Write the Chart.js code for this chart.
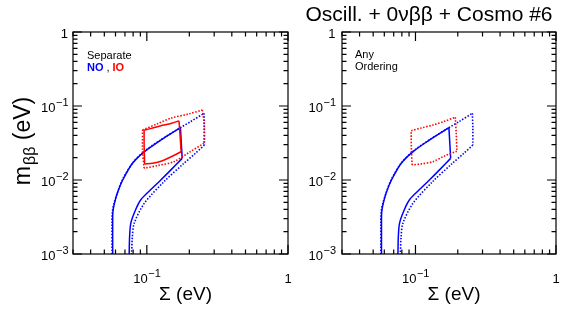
<!DOCTYPE html>
<html>
<head>
<meta charset="utf-8">
<script src="https://cdn.jsdelivr.net/npm/chart.js@4.4.1/dist/chart.umd.min.js"></script>
<style>
  body { margin: 0; background: #fff; }
  #wrap { position: relative; width: 582px; height: 315px; }
  canvas { position: absolute; top: 0; }
</style>
</head>
<body>
<div id="wrap">
  <canvas id="left" width="582" height="315" style="left:0"></canvas>
  <canvas id="right" width="282" height="315" style="left:300px"></canvas>
</div>
<script>
// decade ticks
const xTickValues = [0.1, 1];
const yTickValues = [0.001, 0.01, 0.1, 1];

// normal ordering, solid contour (Sigma in eV, m_bb in eV); corners = indices of sharp corners
const noSolidSigma = [0.0573, 0.0573, 0.0575, 0.0589, 0.0620, 0.0675, 0.0792, 0.0957, 0.1256, 0.1500, 0.1730,
                      0.1780, 0.1476, 0.1256, 0.1050, 0.0907, 0.0830, 0.0770, 0.0755, 0.0750];
const noSolidMbb   = [0.0010, 0.0025, 0.0037, 0.0048, 0.0068, 0.0100, 0.0168, 0.0240, 0.0347, 0.0430, 0.0510,
                      0.0196, 0.0136, 0.0100, 0.0072, 0.0054, 0.0039, 0.0026, 0.0017, 0.0010];
const noSolidCorners = [10, 11];

// normal ordering, dotted contour
const noDotSigma = [0.0567, 0.0567, 0.0569, 0.0585, 0.0620, 0.0670, 0.0790, 0.0950, 0.1250, 0.1730, 0.2040, 0.2540,
                    0.2560, 0.2560, 0.2200, 0.1830, 0.1324, 0.0957, 0.0814, 0.0790, 0.0780];
const noDotMbb   = [0.0010, 0.0025, 0.0036, 0.0048, 0.0068, 0.0100, 0.0168, 0.0240, 0.0347, 0.0510, 0.0614, 0.0796,
                    0.0500, 0.0297, 0.0228, 0.0168, 0.0095, 0.0048, 0.0026, 0.0017, 0.0010];
const noDotCorners = [11, 13];

// inverted ordering, solid contour (left panel)
const ioSolidSigma = [0.0957, 0.1100, 0.1256, 0.1500, 0.1690, 0.1720, 0.1750, 0.1500, 0.1290, 0.1100, 0.0965, 0.0957, 0.0957];
const ioSolidMbb   = [0.0470, 0.0505, 0.0540, 0.0585, 0.0630, 0.0400, 0.0241, 0.0208, 0.0182, 0.0168, 0.0165, 0.0300, 0.0470];
const ioSolidCorners = [4, 6, 10];

// inverted ordering, dotted contour (left panel)
const ioDotSigma = [0.0933, 0.1200, 0.1476, 0.2000, 0.2470, 0.2540, 0.2540, 0.2000, 0.1556, 0.1200, 0.0957, 0.0933, 0.0933];
const ioDotMbb   = [0.0474, 0.0580, 0.0683, 0.0785, 0.0883, 0.0600, 0.0313, 0.0237, 0.0177, 0.0157, 0.0144, 0.0250, 0.0474];
const ioDotCorners = [4, 6, 10];

// inverted ordering, dotted contour (right panel, any ordering)
const ioAnySigma = [0.0932, 0.1100, 0.1330, 0.1600, 0.1920, 0.1950, 0.1970, 0.1600, 0.1330, 0.1100, 0.0947, 0.0935, 0.0932];
const ioAnyMbb   = [0.0464, 0.0505, 0.0553, 0.0620, 0.0703, 0.0420, 0.0245, 0.0210, 0.0177, 0.0165, 0.0160, 0.0260, 0.0464];
const ioAnyCorners = [4, 6, 10];

const BLUE = '#0000ff', RED = '#ff0000';
const FONT = "'Liberation Sans', Arial, Helvetica, sans-serif";
Chart.defaults.font.family = FONT;
Chart.defaults.color = '#000';

// one contour -> smooth pieces split at the sharp corners
function contour(sig, mbb, corners, color, dotted) {
  const pts = sig.map((s, i) => ({ x: s, y: mbb[i] }));
  const cuts = [0, ...corners, pts.length - 1];
  const out = [];
  for (let i = 0; i < cuts.length - 1; i++) {
    out.push({
      data: pts.slice(cuts[i], cuts[i + 1] + 1),
      showLine: true,
      pointRadius: 0,
      borderColor: color,
      borderWidth: dotted ? 1.6 : 1.5,
      borderDash: dotted ? [1.5, 1.6] : [],
      fill: false,
      tension: 0.3
    });
  }
  return out;
}

// "10" with a raised exponent, or "1"
function drawPow(ctx, v, x, y, align) {
  const e = Math.round(Math.log10(v));
  ctx.font = '13px ' + FONT;
  if (e === 0) {
    const w = ctx.measureText('1').width;
    ctx.fillText('1', align === 'center' ? x - w / 2 : x - w, y);
    return;
  }
  const wb = ctx.measureText('10').width;
  const exp = '\u2212' + (-e);
  ctx.font = '11px ' + FONT;
  const we = ctx.measureText(exp).width;
  const x0 = align === 'center' ? x - (wb + we) / 2 : x - (wb + we);
  ctx.font = '13px ' + FONT;
  ctx.fillText('10', x0, y);
  ctx.font = '11px ' + FONT;
  ctx.fillText(exp, x0 + wb + 0.5, y - 6.5);
}

// frame, inward ticks on all four sides, decade labels
function axesPlugin(labelGap) {
  return {
    id: 'frame',
    afterDatasetsDraw(chart) {
      const { ctx, chartArea: a, scales: { x, y } } = chart;
      ctx.save();
      ctx.strokeStyle = '#000';
      ctx.lineWidth = 1.2;
      ctx.strokeRect(a.left, a.top, a.right - a.left, a.bottom - a.top);
      ctx.beginPath();
      for (let e = -3; e <= 0; e++) {
        for (let k = 1; k < 10; k++) {
          const v = k * Math.pow(10, e);
          const len = k === 1 ? 9 : 4.5;
          if (v >= x.min * 0.999 && v <= x.max * 1.001) {
            const px = x.getPixelForValue(v);
            ctx.moveTo(px, a.bottom); ctx.lineTo(px, a.bottom - len);
            ctx.moveTo(px, a.top); ctx.lineTo(px, a.top + len);
          }
          if (v >= y.min * 0.999 && v <= y.max * 1.001) {
            const py = y.getPixelForValue(v);
            ctx.moveTo(a.left, py); ctx.lineTo(a.left + len, py);
            ctx.moveTo(a.right, py); ctx.lineTo(a.right - len, py);
          }
        }
      }
      ctx.stroke();
      ctx.fillStyle = '#000';
      ctx.textBaseline = 'alphabetic';
      xTickValues.forEach(v => drawPow(ctx, v, x.getPixelForValue(v), a.bottom + 29, 'center'));
      yTickValues.forEach(v => drawPow(ctx, v, a.left - labelGap, y.getPixelForValue(v) + 6, 'right'));
      // x axis title
      ctx.font = '19px ' + FONT;
      ctx.textAlign = 'center';
      ctx.fillText('Σ (eV)', (a.left + a.right) / 2 + 5, 300);
      ctx.restore();
    }
  };
}

function textPlugin(draw) {
  return { id: 'texts', afterDraw(chart) { const c = chart.ctx; c.save(); c.fillStyle = '#000'; draw(c, chart); c.restore(); } };
}

function makePanel(id, datasets, yWidth, padRight, labelGap, drawTexts) {
  return new Chart(document.getElementById(id), {
    type: 'scatter',
    data: { datasets },
    options: {
      responsive: false,
      animation: false,
      devicePixelRatio: 1,
      layout: { padding: { left: 0, right: padRight, top: 32, bottom: 0 } },
      plugins: { legend: { display: false }, tooltip: { enabled: false } },
      scales: {
        x: {
          type: 'logarithmic', min: 0.03, max: 1,
          grid: { display: false, drawTicks: false }, border: { display: false },
          ticks: { display: false },
          afterFit: s => { s.height = 61; }
        },
        y: {
          type: 'logarithmic', min: 0.001, max: 1,
          grid: { display: false, drawTicks: false }, border: { display: false },
          ticks: { display: false },
          afterFit: s => { s.width = yWidth; }
        }
      }
    },
    plugins: [axesPlugin(labelGap), textPlugin(drawTexts)]
  });
}

makePanel('left', [
  ...contour(ioDotSigma, ioDotMbb, ioDotCorners, RED, true),
  ...contour(ioSolidSigma, ioSolidMbb, ioSolidCorners, RED, false),
  ...contour(noDotSigma, noDotMbb, noDotCorners, BLUE, true),
  ...contour(noSolidSigma, noSolidMbb, noSolidCorners, BLUE, false)
], 73, 582 - 288, 5, ctx => {
  // y axis title m_bb (eV)
  ctx.translate(30, 141);
  ctx.rotate(-Math.PI / 2);
  const big = '23px ' + FONT, small = '16px ' + FONT;
  ctx.font = big; const wm = ctx.measureText('m').width; const we = ctx.measureText(' (eV)').width;
  ctx.font = small; const wb = ctx.measureText('ββ').width;
  let x0 = -(wm + wb + we + 1) / 2;
  ctx.font = big; ctx.fillText('m', x0, 0); x0 += wm + 1;
  ctx.font = small; ctx.fillText('ββ', x0, 5); x0 += wb;
  ctx.font = big; ctx.fillText(' (eV)', x0, 0);
  ctx.setTransform(1, 0, 0, 1, 0, 0);
  // figure title
  ctx.textAlign = 'center';
  ctx.font = '21px ' + FONT;
  ctx.fillText('Oscill. + 0νββ + Cosmo #6', 429, 21);
  ctx.textAlign = 'left';
  // legend text
  ctx.font = '11px ' + FONT;
  ctx.fillText('Separate', 87, 59);
  ctx.font = 'bold 11px ' + FONT;
  ctx.fillStyle = BLUE; ctx.fillText('NO', 87, 71);
  const w = ctx.measureText('NO').width;
  ctx.font = '11px ' + FONT; ctx.fillStyle = '#000'; ctx.fillText(',', 87 + w + 3, 71);
  ctx.font = 'bold 11px ' + FONT; ctx.fillStyle = RED; ctx.fillText('IO', 87 + w + 9, 71);
});

makePanel('right', [
  ...contour(ioAnySigma, ioAnyMbb, ioAnyCorners, RED, true),
  ...contour(noDotSigma, noDotMbb, noDotCorners, BLUE, true),
  ...contour(noSolidSigma, noSolidMbb, noSolidCorners, BLUE, false)
], 42, 26, 6.5, ctx => {
  ctx.font = '11px ' + FONT;
  ctx.fillText('Any', 55, 58);
  ctx.fillText('Ordering', 55, 69.5);
});
</script>
</body>
</html>
